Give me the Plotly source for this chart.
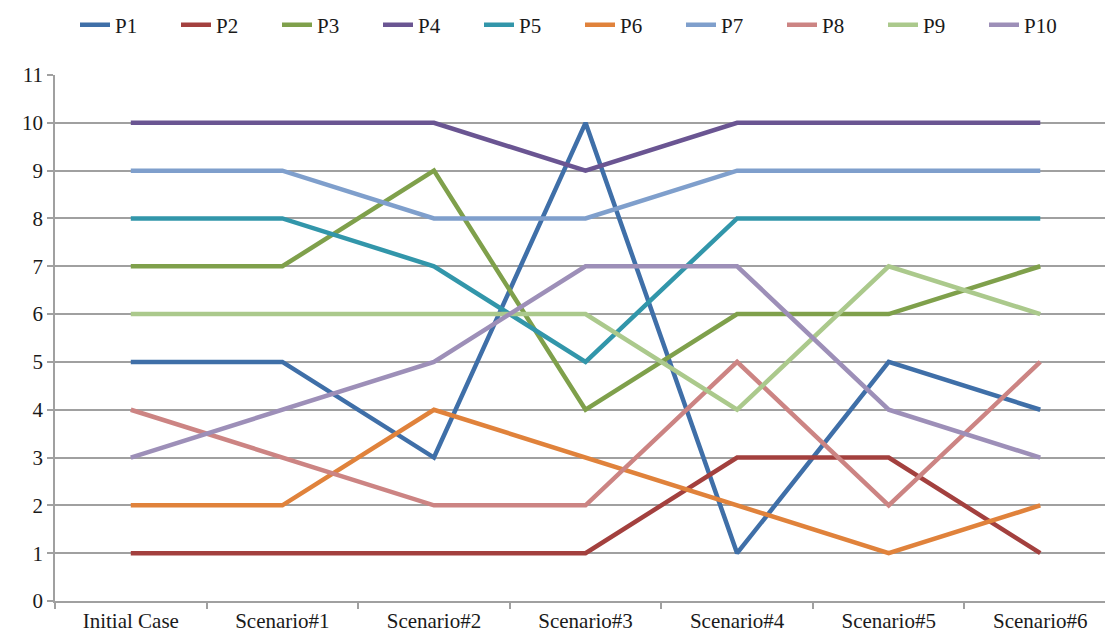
import plotly.graph_objects as go

categories = ["Initial Case", "Scenario#1", "Scenario#2", "Scenario#3",
              "Scenario#4", "Scenario#5", "Scenario#6"]

P1 = [5, 5, 3, 10, 1, 5, 4]
P2 = [1, 1, 1, 1, 3, 3, 1]
P3 = [7, 7, 9, 4, 6, 6, 7]
P4 = [10, 10, 10, 9, 10, 10, 10]
P5 = [8, 8, 7, 5, 8, 8, 8]
P6 = [2, 2, 4, 3, 2, 1, 2]
P7 = [9, 9, 8, 8, 9, 9, 9]
P8 = [4, 3, 2, 2, 5, 2, 5]
P9 = [6, 6, 6, 6, 4, 7, 6]
P10 = [3, 4, 5, 7, 7, 4, 3]

series_names = ["P1", "P2", "P3", "P4", "P5", "P6", "P7", "P8", "P9", "P10"]
series_values = [P1, P2, P3, P4, P5, P6, P7, P8, P9, P10]
colors = ["#3F6FA8", "#A3403E", "#7FA04B", "#6A5592", "#3296AA",
          "#E0823B", "#7F9FCC", "#CC8483", "#ABC98C", "#9D8FB8"]

fig = go.Figure()
for name, vals, col in zip(series_names, series_values, colors):
    fig.add_trace(go.Scatter(
        x=categories, y=vals, name=name, mode="lines",
        line=dict(color=col, width=4.5),
    ))

font_family = "Liberation Serif, Times New Roman, serif"

fig.update_layout(
    width=1105, height=638,
    margin=dict(l=55, r=0, t=75, b=37),
    paper_bgcolor="white", plot_bgcolor="white",
    font=dict(family=font_family, size=21, color="#1a1a1a"),
    legend=dict(
        orientation="h", x=0.5, xanchor="center",
        y=1.095, yanchor="middle",
        font=dict(family=font_family, size=21, color="#1a1a1a"),
        entrywidth=56, entrywidthmode="pixels",
        itemwidth=30,
    ),
    xaxis=dict(
        type="category",
        range=[-0.5, 6.427],
        tickson="boundaries",
        ticks="outside", ticklen=6, tickcolor="#A0A0A0", tickwidth=1.5,
        showgrid=False,
        showline=True, linecolor="#A0A0A0", linewidth=1.5,
        tickfont=dict(family=font_family, size=21, color="#1a1a1a"),
    ),
    yaxis=dict(
        range=[0, 11], dtick=1, tick0=0,
        ticks="outside", ticklen=6, tickcolor="#A0A0A0", tickwidth=1.5,
        showgrid=True, gridcolor="#A0A0A0", gridwidth=1.5,
        showline=True, linecolor="#A0A0A0", linewidth=1.5,
        zeroline=False,
        tickfont=dict(family=font_family, size=21, color="#1a1a1a"),
    ),
)

fig.write_html("out.html")
